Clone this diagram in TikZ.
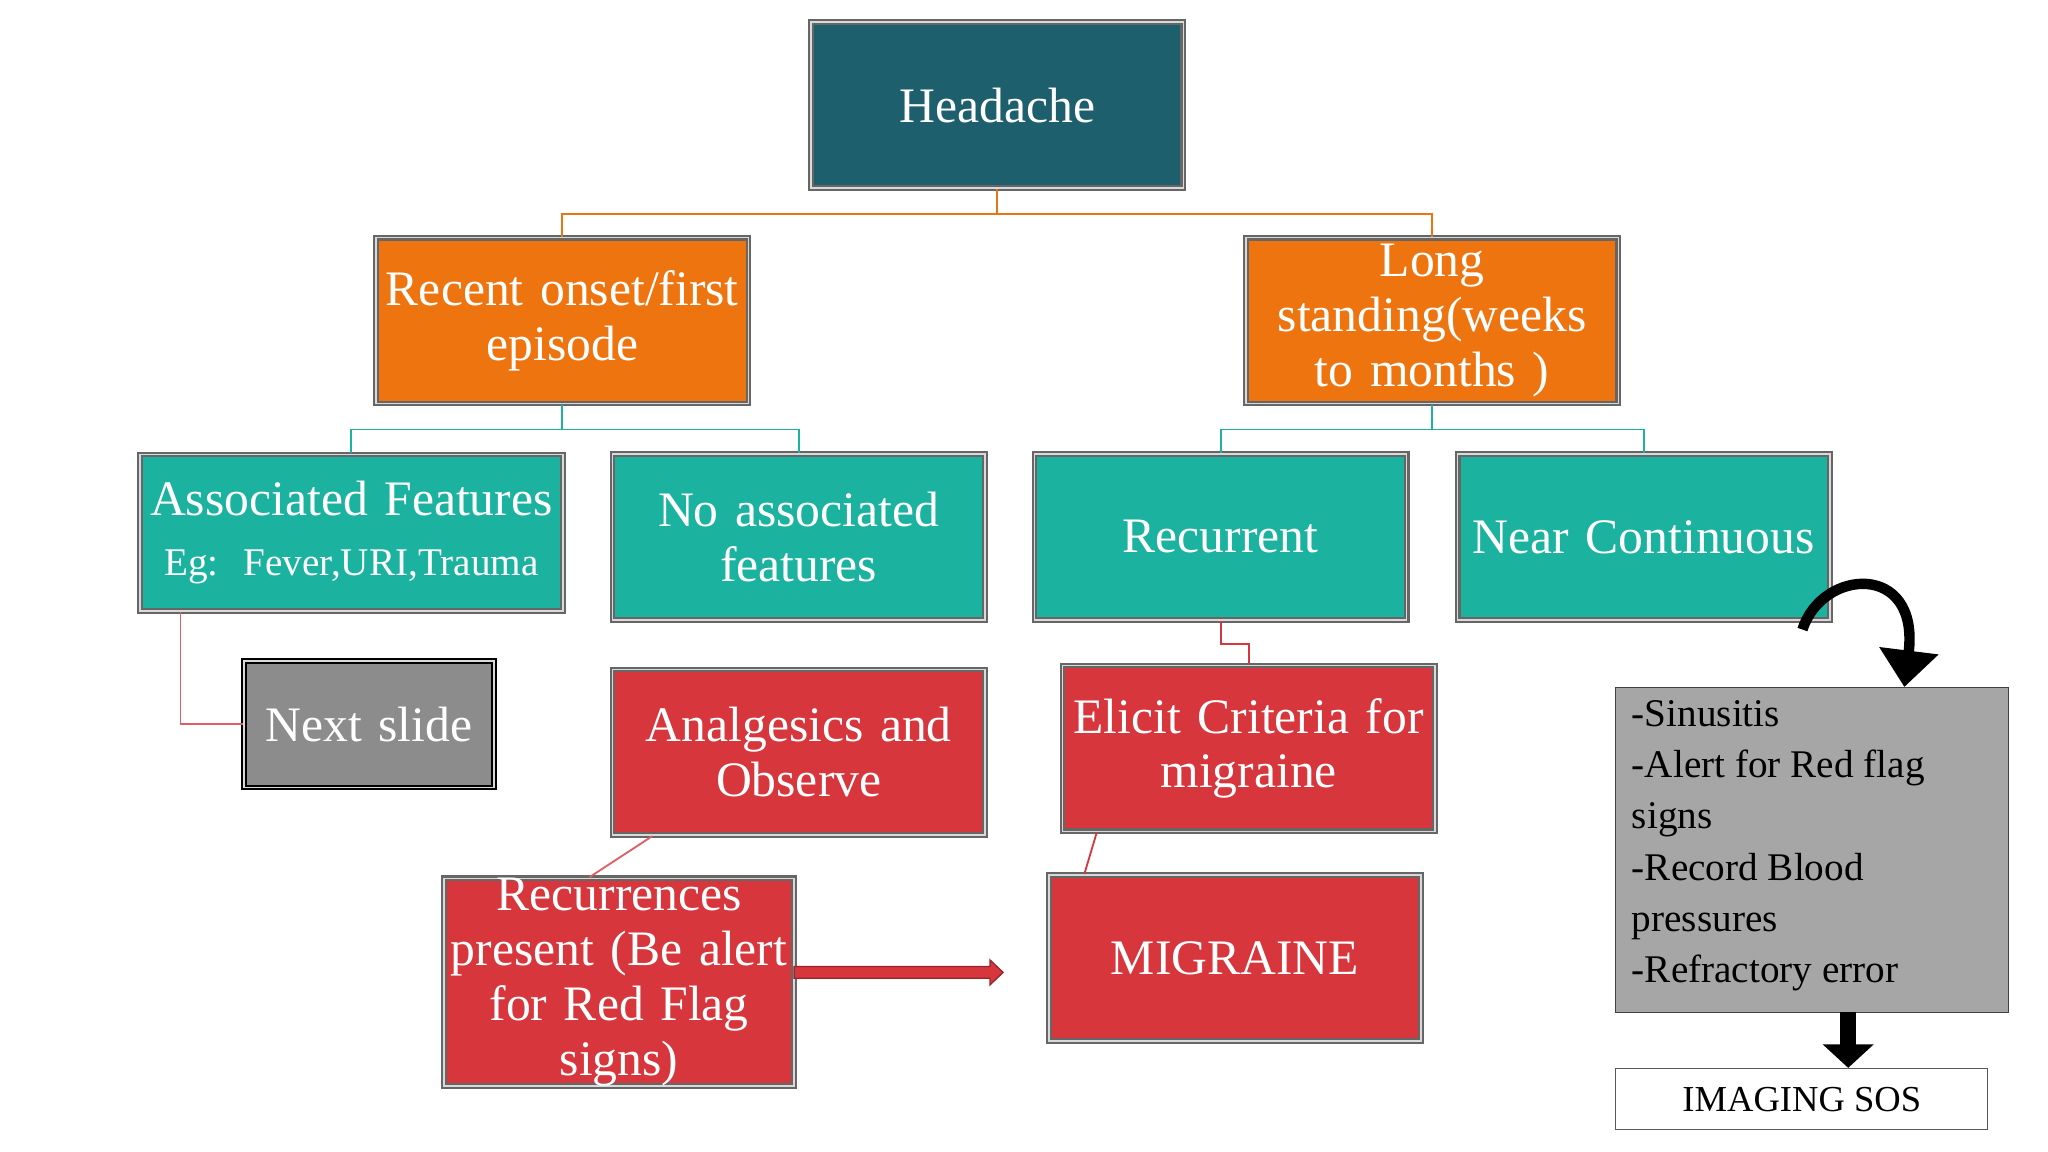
\documentclass[tikz,border=0pt]{standalone}
\usepackage{fontspec}
\setmainfont{Liberation Serif}
\usetikzlibrary{arrows.meta}
\definecolor{dteal}{HTML}{1E5F6D}
\definecolor{org}{HTML}{EE7410}
\definecolor{tl}{HTML}{1BB29F}
\definecolor{rd}{HTML}{D6363C}
\definecolor{gr}{HTML}{8C8C8C}
\definecolor{lgr}{HTML}{A6A6A6}
\begin{document}
\begin{tikzpicture}[x=0.5pt,y=-0.5pt,
 bx/.style={draw=gray!80!black,line width=0.8pt,double=white!70!gray,double distance=0.6pt,align=center,inner sep=0pt,text=white,font=\fontsize{19}{21}\selectfont,minimum width=142.5pt,minimum height=63.5pt,text width=142pt},
 conn/.style={line width=0.7pt}]
\useasboundingbox (0,0) rectangle (1568,882);
\node[bx,fill=dteal] (h) at (763.5,80.5) {Headache};
\node[bx,fill=org] (r) at (430.5,245.5) {Recent onset/first\\episode};
\node[bx,fill=org] (l) at (1096.5,245.5) {Long\\standing(weeks\\to months )};
\node[bx,fill=tl,minimum width=162pt,text width=162pt,minimum height=60pt] (a) at (269,408) {Associated Features\\[2pt]{\fontsize{15}{17}\selectfont Eg: Fever,URI,Trauma}};
\node[bx,fill=tl] (n) at (611.5,411) {No associated\\features};
\node[bx,fill=tl] (rc) at (934.5,411) {Recurrent};
\node[bx,fill=tl] (nc) at (1258.5,411) {Near Continuous};
\node[bx,fill=gr,draw=black,minimum width=95.5pt,text width=95pt,minimum height=48.5pt] (ns) at (282.5,554.5) {Next slide};
\node[bx,fill=rd] (an) at (611.5,576) {Analgesics and\\Observe};
\node[bx,fill=rd] (el) at (956,573) {Elicit Criteria for\\migraine};
\node[bx,fill=rd,minimum width=134pt,text width=134pt,minimum height=78pt] (rp) at (474,752) {Recurrences\\present (Be alert\\for Red Flag\\signs)};
\node[bx,fill=rd] (m) at (945.5,733.5) {MIGRAINE};
\node[draw=gray!50!black,fill=lgr,minimum width=150.5pt,minimum height=124.5pt,inner sep=0pt] (g) at (1387.5,650.5) {};
\node[anchor=north west,align=left,inner sep=0pt,font=\fontsize{15}{19.6}\selectfont] (gt) at (1249,536) {-Sinusitis\\-Alert for Red flag\\signs\\-Record Blood\\pressures\\-Refractory error};
\node[draw=gray!70!black,fill=white,minimum width=142.5pt,minimum height=23.5pt,inner sep=0pt,font=\fontsize{14}{16}\selectfont] (im) at (1379.5,841.5) {IMAGING SOS};
% connectors
\draw[conn,org] (h.south) -- ++(0,19) -| (r.north);
\draw[conn,org] (h.south) -- ++(0,19) -| (l.north);
\draw[conn,tl] (r.south) -- ++(0,19) -| (a.north);
\draw[conn,tl] (r.south) -- ++(0,19) -| (n.north);
\draw[conn,tl] (l.south) -- ++(0,19) -| (rc.north);
\draw[conn,tl] (l.south) -- ++(0,19) -| (nc.north);
\draw[conn,rd!80!white] (a.south west) ++(32,0) coordinate (a1) -- (a1|-ns.west) -- (ns.west);
\draw[conn,rd] (rc.south) -- ++(0,18) -| (el.north);
\draw[conn,rd!80!white] (an.south west) ++(31,0) -- ([xshift=56pt]rp.north west);
\draw[conn,rd] (el.south west) ++(27,0) -- ([xshift=14pt]m.north west);
\draw[draw=rd!70!black,fill=rd,line width=0.5pt] (608,740) -- (758,740) -- (758,735) -- (768,744.5) -- (758,754) -- (758,749) -- (608,749) -- cycle;
\coordinate (cs) at (1380,482);
\draw[line width=4pt,-{Triangle[length=14pt,width=22pt]}] (cs) .. controls (1395,435) and (1470,430) .. (1458,526);
\draw[line width=6pt,-{Triangle[length=9pt,width=19pt]}] (1415,775) -- (im.north-|1415,0);
\end{tikzpicture}
\end{document}
